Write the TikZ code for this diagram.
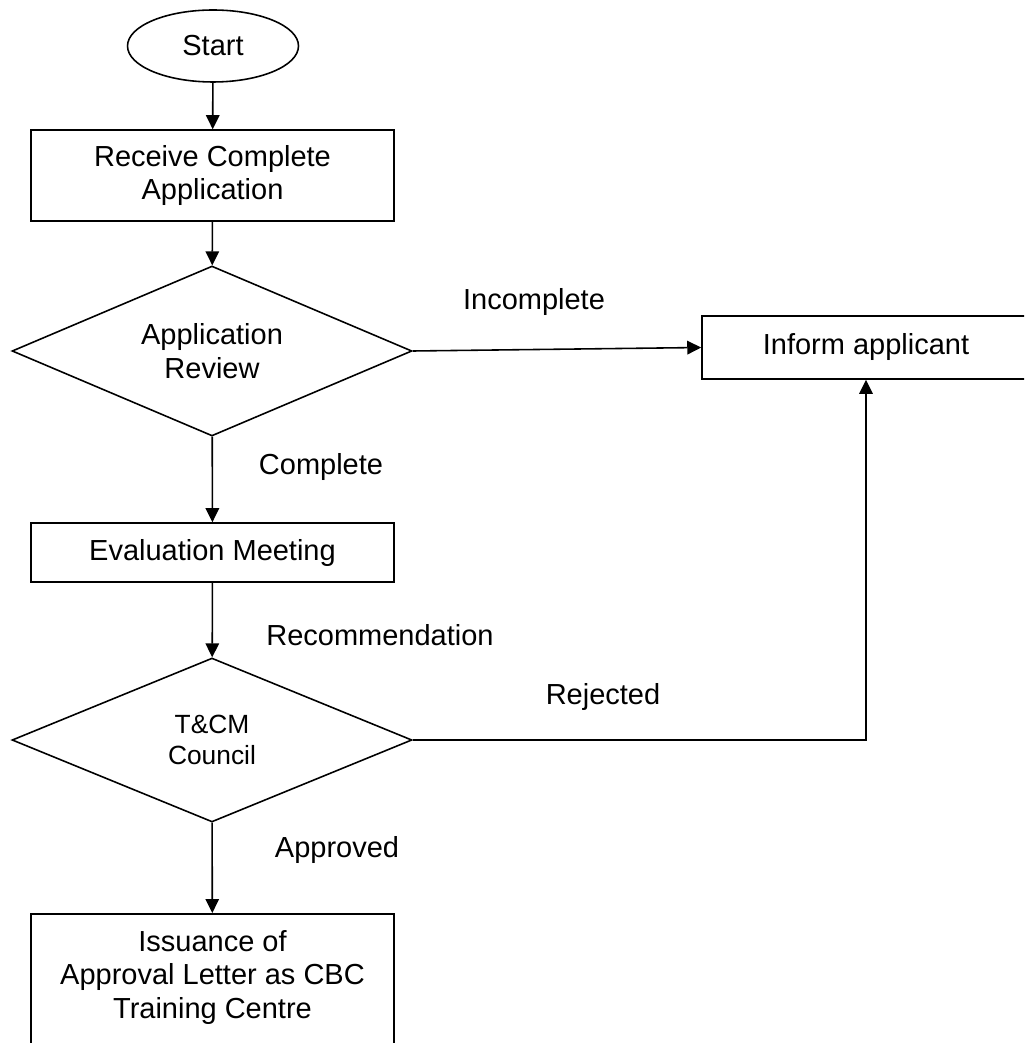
\documentclass[tikz,border=0pt]{standalone}
\usepackage{fontspec}
\setmainfont{Liberation Sans}
\usepackage{tikz}
\usetikzlibrary{shapes.geometric}
\usetikzlibrary{arrows.meta}
\usetikzlibrary{positioning}

\begin{document}
\begin{tikzpicture}[x=0.02cm,y=-0.02cm,
        every node/.style={font=\fontsize{16.5}{19}\selectfont},
        box/.style={draw,line width=0.9pt,rectangle,align=center,inner sep=0pt,minimum width=7.26cm},
        decision/.style={draw,line width=0.9pt,diamond,aspect=2.4,align=center,inner sep=0pt,minimum width=8cm},
        arr/.style={line width=0.9pt,-{Triangle[width=0.27cm,length=0.28cm]}}]
        \useasboundingbox (0,0) rectangle (1024,1043);
        \clip (0,0) rectangle (1024,1043);

        \node[draw,line width=0.9pt,ellipse,inner sep=0pt,minimum width=3.42cm,minimum height=1.44cm] (start) at (213,46) {Start};
        \node[box,minimum height=1.82cm] (receive) at (212.5,175.5) {Receive Complete\\Application};
        \node[decision,minimum height=3.4cm] (review) at (212,351) {Application\\Review};
        \node[box,minimum width=6.56cm,minimum height=1.26cm] (inform) at (866,347.5) {Inform applicant};
        \node[box,minimum height=1.18cm] (evalmeet) at (212.5,552.5) {Evaluation Meeting};
        \node[decision,minimum height=3.28cm,font=\fontsize{15}{18}\selectfont] (council) at (212,740) {T\&CM\\Council};
        \node[box,anchor=north,inner ysep=0.33cm,text depth=3cm] (issue) at (212.5,913) {Issuance of\\Approval Letter as CBC\\Training Centre};

        \draw[arr] (start) -- (receive);
        \draw[arr] (receive) -- (review);
        \draw[arr] (review.east) -- (inform.west);
        \draw[arr] (review) -- (evalmeet);
        \draw[arr] (evalmeet) -- (council);
        \draw[arr] (council.east) -| (inform.south);
        \draw[arr] (council) -- (issue);

        \node (incomplete) at (534,302) {Incomplete};
        \node (complete) at (321,467) {Complete};
        \node (recommend) at (380,635) {Recommendation};
        \node (rejected) at (603,697) {Rejected};
        \node (approved) at (337,850) {Approved};
    \end{tikzpicture}
\end{document}
